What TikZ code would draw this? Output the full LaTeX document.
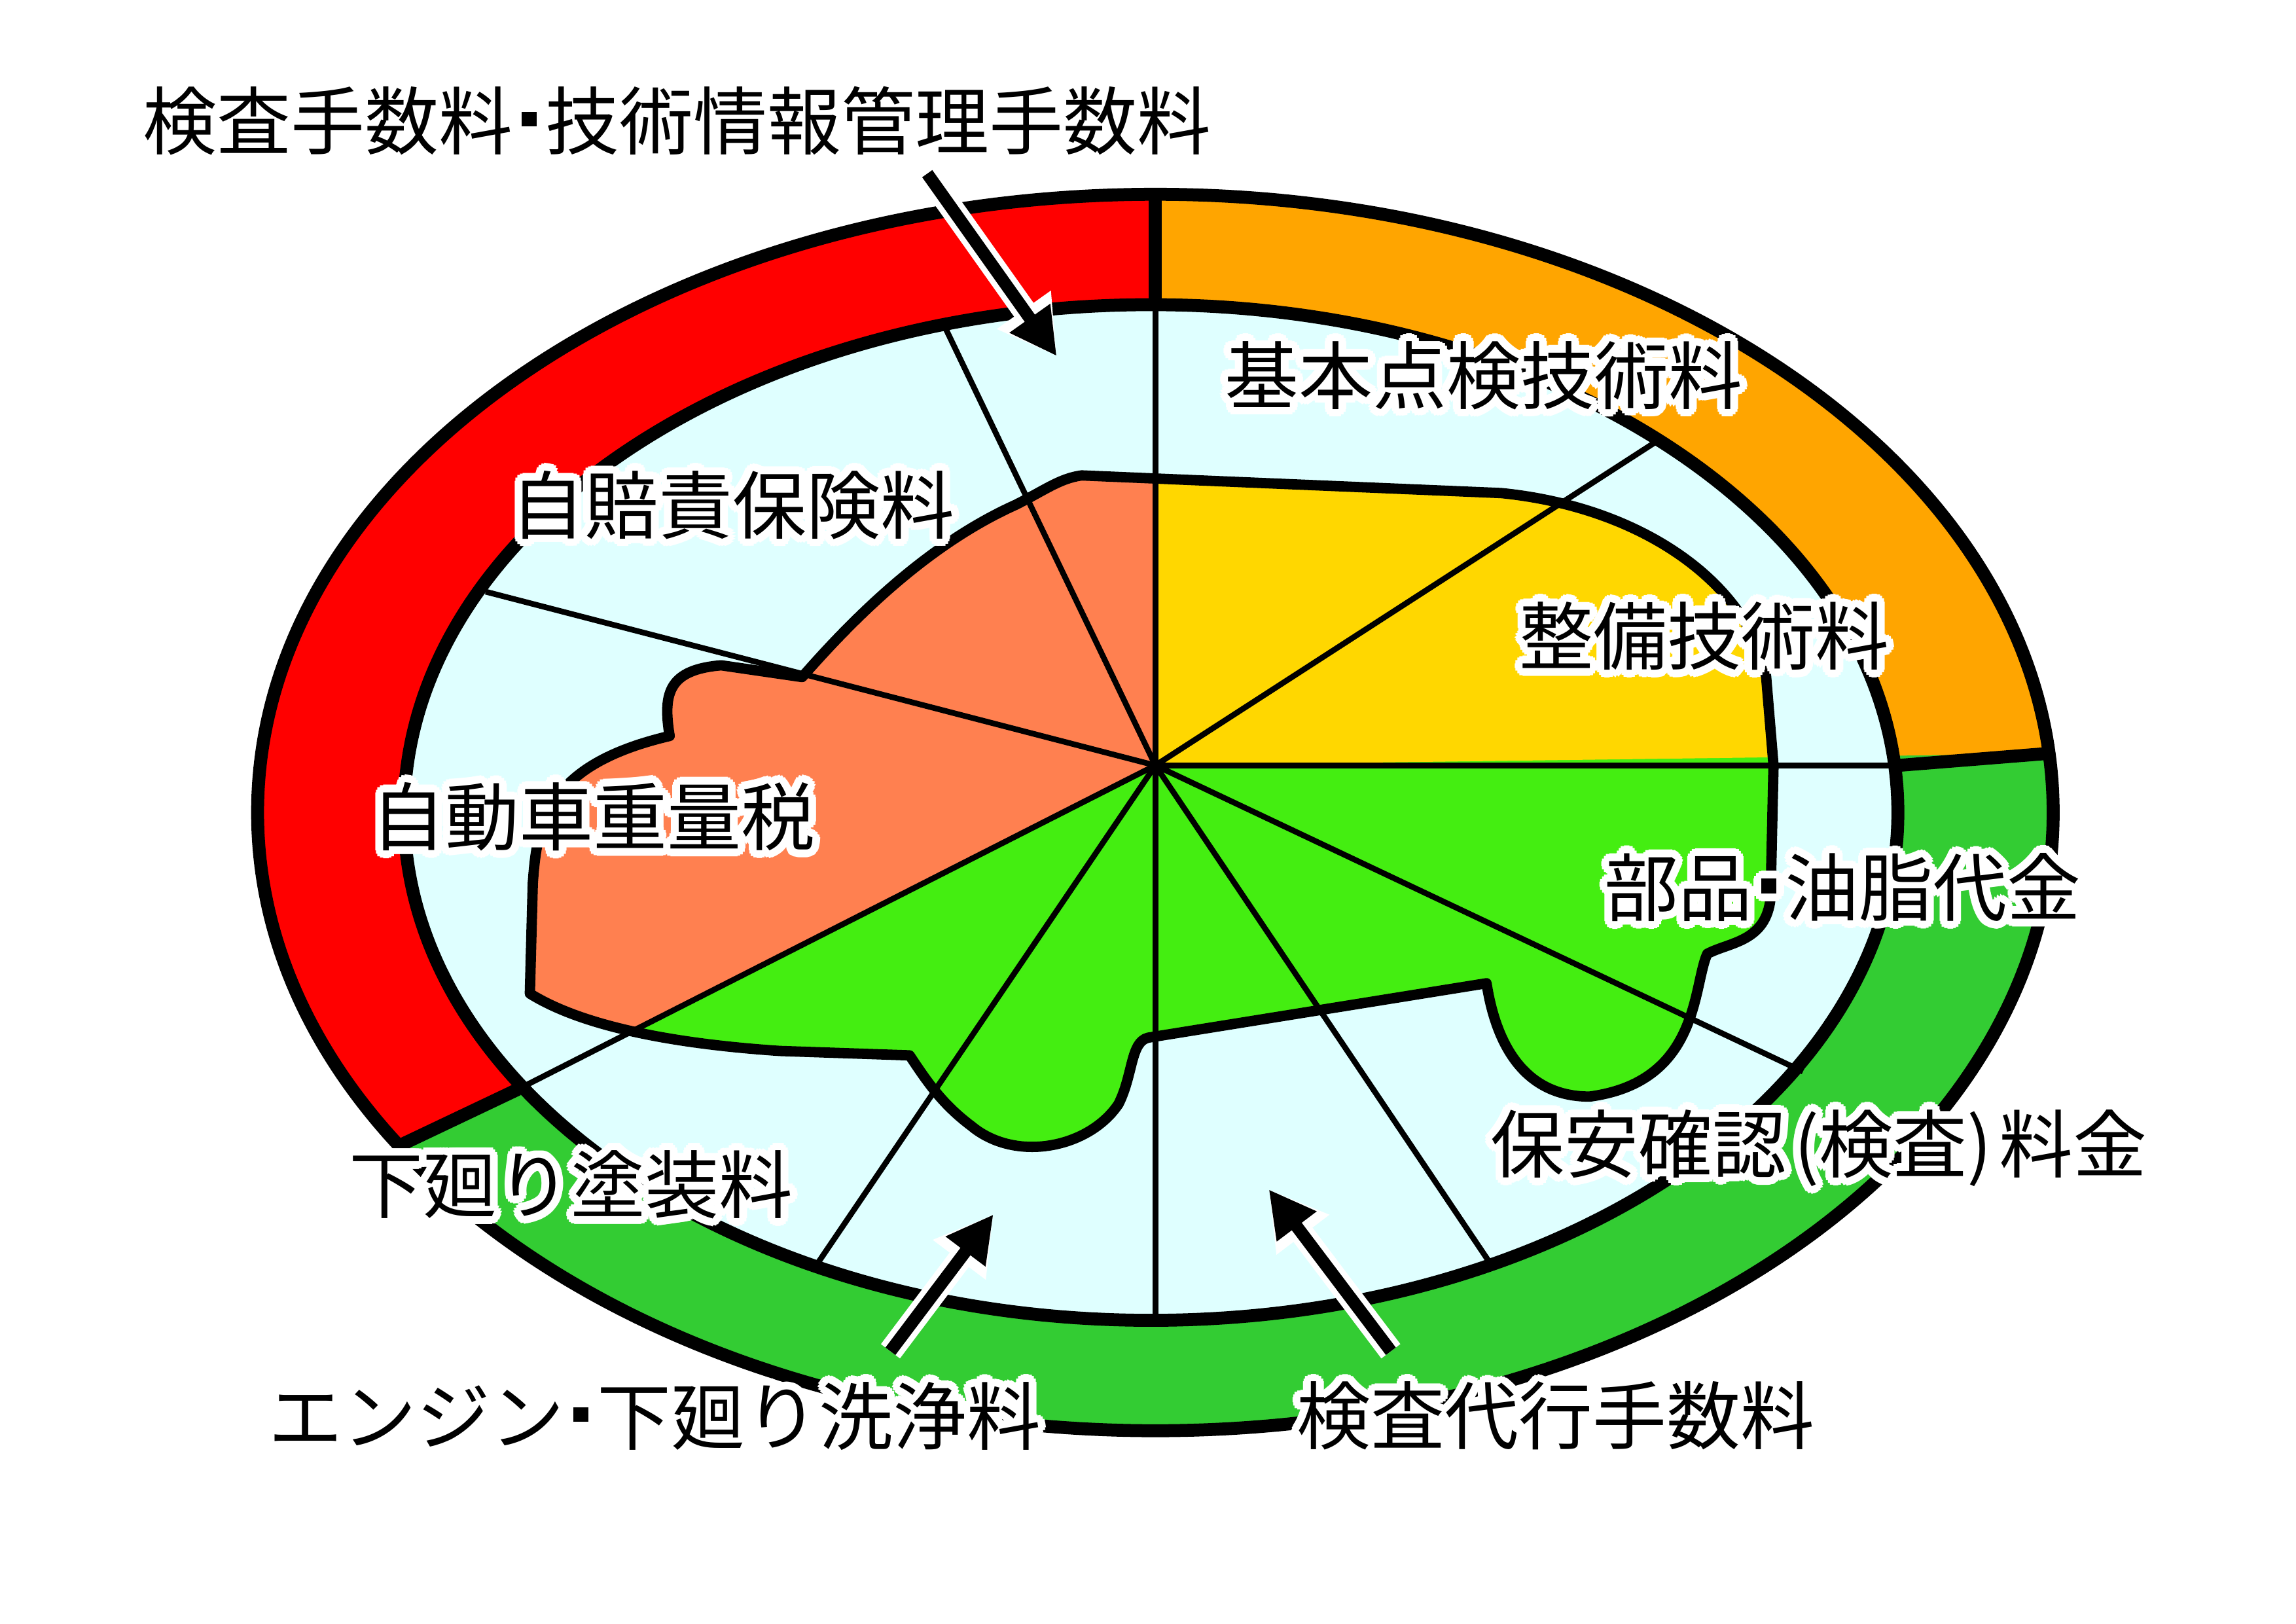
\documentclass[tikz,border=0pt]{standalone}
\usepackage{fontspec}
\setmainfont{Noto Sans CJK JP}
\usetikzlibrary{arrows.meta}
\definecolor{ringred}{HTML}{FF0000}
\definecolor{ringor}{HTML}{FFA500}
\definecolor{ringgr}{HTML}{33CC33}
\definecolor{incyan}{HTML}{DFFFFF}
\definecolor{salmon}{HTML}{FF8050}
\definecolor{yel}{HTML}{FFD700}
\definecolor{grn}{HTML}{44EE11}
\tikzset{
 lab/.style={font=\fontsize{14.3pt}{16pt}\selectfont, inner sep=0pt, text=black},
 radial/.style={line width=1.1pt},
 bold/.style={line width=2.5pt},
 carline/.style={line width=2pt, line join=round},
 arr/.style={line width=2.4pt,-{Triangle[length=9pt,width=9pt]}},
 arrhalo/.style={line width=4.6pt,white,-{Triangle[length=11pt,width=12pt]}},
}
\newcommand\dt{\kern0.12em\raisebox{0.3em}{\rule{0.2em}{0.2em}}\kern0.12em}
\newcommand\lbl[3]{%
 \foreach \a in {0,22.5,...,337.5}{\node[lab,text=white] at ([shift={(\a:1.5pt)}]#2) {#3};}
 \node[lab] (#1) at (#2) {#3};}
\begin{document}
\begin{tikzpicture}[x=0.1mm,y=-0.1mm]
\useasboundingbox[fill=white] (0,0) rectangle (1560,1103);
\coordinate (c) at (785,520);
\def\redpoly{(c) -- (785,-100) -- (-100,-100) -- (-100,966) -- cycle}
\def\orpoly{(c) -- (785,-100) -- (1700,-100) -- (1700,508) -- cycle}
\fill[ringgr] (785,552) ellipse [x radius=61mm, y radius=42mm];
\begin{scope}
 \clip (785,552) ellipse [x radius=61mm, y radius=42mm];
 \fill[ringred] \redpoly;
 \fill[ringor] \orpoly;
\end{scope}
\fill[incyan] (782,552) ellipse [x radius=50.75mm, y radius=34.5mm];
\def\car{(735,323) -- (1020,335) .. controls (1120,345) and (1190,400) .. (1200,460) -- (1205,520) -- (1203,610) .. controls (1200,640) and (1175,640) .. (1160,648) .. controls (1150,670) and (1155,735) .. (1080,745) .. controls (1030,745) and (1015,700) .. (1010,668) -- (780,705) .. controls (768,708) and (770,730) .. (760,750) .. controls (740,780) and (690,790) .. (660,765) .. controls (640,750) and (630,735) .. (618,717) -- (530,714) .. controls (470,710) and (400,700) .. (360,675) -- (362,600) .. controls (365,560) and (370,520) .. (455,500) .. controls (450,470) and (455,455) .. (490,452) -- (545,460) .. controls (580,420) and (630,370) .. (690,343) .. controls (710,333) and (720,325) .. (735,323)}
\begin{scope}
 \clip \car;
 \fill[grn] (0,0) rectangle (1560,1103);
 \fill[salmon] \redpoly;
 \fill[yel] \orpoly;
\end{scope}
\foreach \p in {(785,207),(640,218),(330,402),(352,740),(553,862),(785,900),(1015,862),(1225,728),(1290,520),(1130,297)}
 \draw[radial] (c) -- \p;
\draw[carline] \car -- cycle;
\draw[bold] (782,552) ellipse [x radius=50.75mm, y radius=34.5mm];
\draw[bold] (785,552) ellipse [x radius=61mm, y radius=42mm];
\draw[bold] (785,133) -- (785,207);
\draw[bold] (1290,520) -- (1390,512);
\draw[bold] (352,740) -- (272,778);
\node[lab] (t0) at (460,82) {検査手数料\dt 技術情報管理手数料};
\lbl{t1}{1008,255}{基本点検技術料}
\lbl{t2}{498,343}{自賠責保険料}
\lbl{t3}{1158,432}{整備技術料}
\lbl{t4}{403,555}{自動車重量税}
\lbl{t5}{1252,603}{部品\dt 油脂代金}
\lbl{t6}{1236,780}{保安確認\kern0.1em(検査)\kern0.1em 料金}
\lbl{t7}{388,805}{下廻り塗装料}
\lbl{t8}{445,962}{エンジン\dt 下廻り洗浄料}
\lbl{t9}{1057,962}{検査代行手数料}
\coordinate (a1s) at (630,118); \coordinate (a1e) at (718,242);
\coordinate (a2s) at (605,918); \coordinate (a2e) at (675,825);
\coordinate (a3s) at (945,918); \coordinate (a3e) at (862,808);
\foreach \s/\e in {a1s/a1e,a2s/a2e,a3s/a3e}{
 \draw[arrhalo] (\s) -- (\e);
 \draw[arr] (\s) -- (\e);}
\end{tikzpicture}
\end{document}
